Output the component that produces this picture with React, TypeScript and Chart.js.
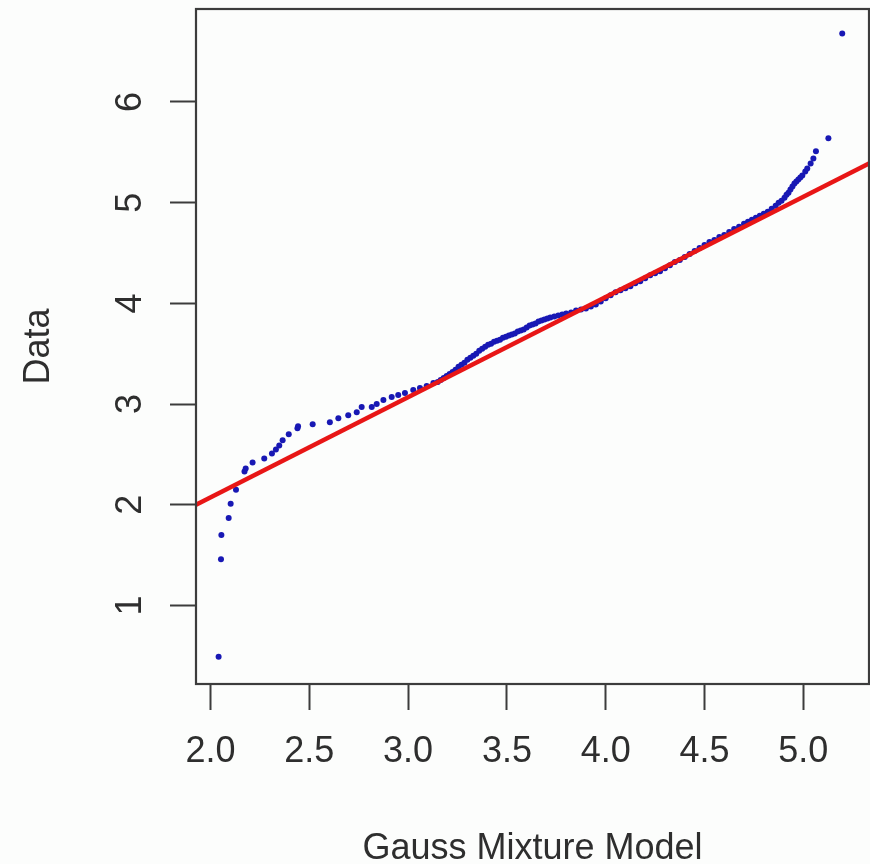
import React, { useEffect, useRef } from "react";
import { Chart, registerables } from "chart.js";

Chart.register(...registerables);

// Theoretical quantiles (Gauss Mixture Model) and sample quantiles (Data)
const theoreticalQuantiles: number[] = [
  2.041, 2.053, 2.055, 2.092, 2.102, 2.129, 2.172, 2.178, 2.213, 2.272,
  2.311, 2.331, 2.348, 2.365, 2.396, 2.44, 2.443, 2.517, 2.604, 2.647,
  2.697, 2.74, 2.765, 2.816, 2.841, 2.875, 2.917, 2.95, 2.984, 3.026,
  3.06, 3.094, 3.128, 3.15, 3.165, 3.18, 3.195, 3.21, 3.225, 3.24,
  3.255, 3.27, 3.285, 3.3, 3.315, 3.33, 3.345, 3.36, 3.375, 3.39,
  3.405, 3.42, 3.435, 3.45, 3.465, 3.48, 3.495, 3.51, 3.525, 3.54,
  3.555, 3.57, 3.585, 3.6, 3.615, 3.63, 3.645, 3.66, 3.675, 3.69,
  3.705, 3.72, 3.74, 3.76, 3.78, 3.8, 3.825, 3.85, 3.875, 3.9,
  3.925, 3.95, 3.975, 4.0, 4.025, 4.05, 4.075, 4.1, 4.125, 4.15,
  4.175, 4.2, 4.225, 4.25, 4.275, 4.3, 4.325, 4.35, 4.375, 4.4,
  4.425, 4.45, 4.475, 4.5, 4.525, 4.55, 4.575, 4.6, 4.625, 4.65,
  4.675, 4.7, 4.72, 4.74, 4.76, 4.78, 4.8, 4.82, 4.84, 4.86,
  4.875, 4.89, 4.905, 4.915, 4.925, 4.935, 4.945, 4.955, 4.965, 4.975,
  4.985, 4.995, 5.01, 5.02, 5.037, 5.051, 5.064, 5.127, 5.197,
];

const sampleQuantiles: number[] = [
  0.49, 1.46, 1.7, 1.87, 2.01, 2.15, 2.33, 2.36, 2.42, 2.46,
  2.51, 2.55, 2.59, 2.64, 2.7, 2.76, 2.78, 2.8, 2.82, 2.86,
  2.89, 2.92, 2.97, 2.97, 3.0, 3.04, 3.07, 3.09, 3.11, 3.14,
  3.16, 3.18, 3.21, 3.22, 3.24, 3.26, 3.28, 3.3, 3.32, 3.34,
  3.37, 3.39, 3.41, 3.44, 3.46, 3.48, 3.5, 3.53, 3.55, 3.57,
  3.59, 3.6, 3.62, 3.63, 3.64, 3.66, 3.67, 3.68, 3.69, 3.7,
  3.72, 3.73, 3.74, 3.76, 3.78, 3.79, 3.8, 3.82, 3.83, 3.84,
  3.85, 3.86, 3.87, 3.88, 3.89, 3.9, 3.91, 3.93, 3.94, 3.95,
  3.97, 3.99, 4.02, 4.05, 4.08, 4.11, 4.13, 4.15, 4.17, 4.2,
  4.22, 4.25, 4.28, 4.3, 4.32, 4.35, 4.38, 4.41, 4.43, 4.46,
  4.49, 4.52, 4.55, 4.58, 4.61, 4.63, 4.66, 4.68, 4.71, 4.74,
  4.76, 4.79, 4.81, 4.83, 4.85, 4.87, 4.89, 4.91, 4.94, 4.97,
  5.0, 5.02, 5.05, 5.08, 5.1, 5.13, 5.16, 5.19, 5.21, 5.23,
  5.25, 5.27, 5.31, 5.34, 5.39, 5.44, 5.51, 5.64, 6.68,
];

// Reference (qqline) end points
const refLineX: number[] = [1.9266, 5.3325];
const refLineY: number[] = [2.0, 5.39];

// Axis ranges and ticks
const xRange: number[] = [1.9266, 5.3325];
const yRange: number[] = [0.2205, 6.9235];
const xTickValues: number[] = [2.0, 2.5, 3.0, 3.5, 4.0, 4.5, 5.0];
const xTickLabels: string[] = ["2.0", "2.5", "3.0", "3.5", "4.0", "4.5", "5.0"];
const yTickValues: number[] = [1, 2, 3, 4, 5, 6];
const yTickLabels: string[] = ["1", "2", "3", "4", "5", "6"];

const xAxisTitle = "Gauss Mixture Model";
const yAxisTitle = "Data";

const FONT_FAMILY = "'Liberation Sans', Arial, Helvetica, sans-serif";
const TEXT_COLOR = "#2e2e2e";
const AXIS_COLOR = "#3c3c3c";

const backgroundPlugin = {
  id: "bgFill",
  beforeDraw(chart: any) {
    const ctx = chart.ctx;
    ctx.save();
    ctx.fillStyle = "#fcfdfc";
    ctx.fillRect(0, 0, chart.width, chart.height);
    ctx.restore();
  },
};

const boxPlugin = {
  id: "plotBox",
  afterDraw(chart: any) {
    const { ctx, chartArea } = chart;
    ctx.save();
    ctx.strokeStyle = AXIS_COLOR;
    ctx.lineWidth = 2.2;
    ctx.strokeRect(
      chartArea.left,
      chartArea.top,
      chartArea.right - chartArea.left,
      chartArea.bottom - chartArea.top
    );
    ctx.restore();
  },
};

export default function App() {
  const canvasRef = useRef<HTMLCanvasElement | null>(null);

  useEffect(() => {
    if (!canvasRef.current) return;
    const points = theoreticalQuantiles.map((x, i) => ({ x, y: sampleQuantiles[i] }));
    const line = refLineX.map((x, i) => ({ x, y: refLineY[i] }));

    const chart = new Chart(canvasRef.current, {
      type: "scatter",
      data: {
        datasets: [
          {
            type: "line",
            label: "qqline",
            data: line,
            borderColor: "rgb(232, 22, 22)",
            borderWidth: 4.5,
            pointRadius: 0,
            fill: false,
            order: 0,
          } as any,
          {
            type: "scatter",
            label: "Data",
            data: points,
            backgroundColor: "#1818b4",
            borderWidth: 0,
            pointRadius: 3,
            order: 1,
          },
        ],
      },
      options: {
        responsive: false,
        animation: false,
        events: [],
        layout: { autoPadding: false, padding: { top: 9, right: 1, left: 0, bottom: 0 } },
        plugins: {
          legend: { display: false },
          tooltip: { enabled: false },
        },
        scales: {
          x: {
            type: "linear",
            position: "bottom",
            min: xRange[0],
            max: xRange[1],
            afterBuildTicks: (scale: any) => {
              scale.ticks = xTickValues.map((v) => ({ value: v }));
            },
            afterFit: (scale: any) => {
              scale.height = 180;
              scale.paddingLeft = 0;
              scale.paddingRight = 0;
            },
            grid: {
              drawOnChartArea: false,
              drawTicks: true,
              tickLength: 26,
              tickWidth: 2,
              tickColor: AXIS_COLOR,
            },
            border: { display: false },
            ticks: {
              autoSkip: false,
              maxRotation: 0,
              minRotation: 0,
              padding: 20,
              color: TEXT_COLOR,
              font: { family: FONT_FAMILY, size: 36 },
              callback: (value: any) => xTickLabels[xTickValues.indexOf(Number(value))] ?? "",
            },
            title: {
              display: true,
              text: xAxisTitle,
              color: TEXT_COLOR,
              font: { family: FONT_FAMILY, size: 36, lineHeight: 0.85 },
              padding: { top: 0, bottom: 0 },
            },
          },
          y: {
            type: "linear",
            position: "left",
            min: yRange[0],
            max: yRange[1],
            afterBuildTicks: (scale: any) => {
              scale.ticks = yTickValues.map((v) => ({ value: v }));
            },
            afterFit: (scale: any) => {
              scale.width = 196;
              scale.paddingTop = 0;
              scale.paddingBottom = 0;
            },
            grid: {
              drawOnChartArea: false,
              drawTicks: true,
              tickLength: 26,
              tickWidth: 2,
              tickColor: AXIS_COLOR,
            },
            border: { display: false },
            ticks: {
              autoSkip: false,
              minRotation: 90,
              maxRotation: 90,
              crossAlign: "center",
              padding: 29,
              color: TEXT_COLOR,
              font: { family: FONT_FAMILY, size: 36 },
              callback: (value: any) => yTickLabels[yTickValues.indexOf(Number(value))] ?? "",
            },
            title: {
              display: true,
              text: yAxisTitle,
              color: TEXT_COLOR,
              font: { family: FONT_FAMILY, size: 36, lineHeight: 1 },
              padding: { top: 21, bottom: 0 },
            },
          },
        },
      },
      plugins: [backgroundPlugin, boxPlugin],
    });

    return () => {
      chart.destroy();
    };
  }, []);

  return (
    <div style={{ position: "absolute", left: 0, top: 0, width: 870, height: 864 }}>
      <canvas ref={canvasRef} width={870} height={864} style={{ display: "block" }} />
    </div>
  );
}
